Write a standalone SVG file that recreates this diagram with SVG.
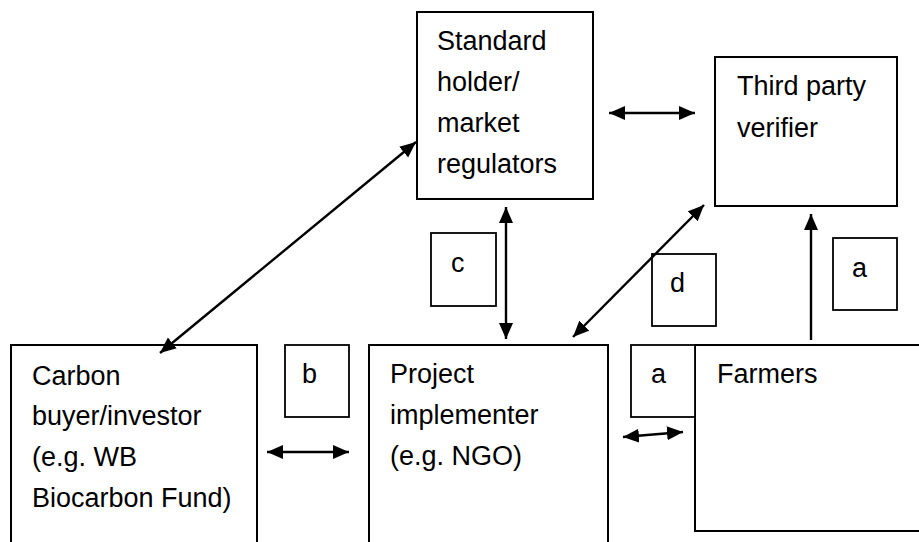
<svg xmlns="http://www.w3.org/2000/svg" width="919" height="542" viewBox="0 0 919 542">
<style>
.box{fill:#fff;stroke:#000;stroke-width:2}
.lbl{fill:#fff;stroke:#000;stroke-width:1.8}
text{font-family:"Liberation Sans",Arial,sans-serif;font-size:27px;fill:#000}
.c{stroke:#000;stroke-width:2.4;fill:none}
</style>
<defs>
<marker id="ah" markerUnits="userSpaceOnUse" markerWidth="18" markerHeight="16" refX="16" refY="7.5" orient="auto-start-reverse">
<path d="M0,0.5 L16,7.5 L0,14.5 z" fill="#000"/>
</marker>
</defs>
<rect width="919" height="542" fill="#fff"/>
<g id="standard">
<rect class="box" x="417" y="12" width="176" height="187"/>
<text x="437" y="50">Standard</text>
<text x="437" y="91">holder/</text>
<text x="437" y="132">market</text>
<text x="437" y="173">regulators</text>
</g>
<g id="verifier">
<rect class="box" x="715" y="57" width="182" height="149"/>
<text x="737" y="95">Third party</text>
<text x="737" y="137">verifier</text>
</g>
<g id="buyer">
<rect class="box" x="11" y="345" width="246" height="210"/>
<text x="32" y="385">Carbon</text>
<text x="32" y="425">buyer/investor</text>
<text x="32" y="466">(e.g. WB</text>
<text x="32" y="507">Biocarbon Fund)</text>
</g>
<g id="implementer">
<rect class="box" x="369" y="345" width="239" height="210"/>
<text x="390" y="383">Project</text>
<text x="390" y="424">implementer</text>
<text x="390" y="465">(e.g. NGO)</text>
</g>
<g id="farmers">
<rect class="box" x="695" y="345" width="240" height="186"/>
<text x="717" y="383">Farmers</text>
</g>
<g id="label-b">
<rect class="lbl" x="285" y="345" width="64" height="72"/>
<text x="302" y="383">b</text>
</g>
<g id="label-c">
<rect class="lbl" x="431" y="233" width="65" height="73"/>
<text x="451" y="272">c</text>
</g>
<g id="label-d">
<rect class="lbl" x="652" y="254" width="64" height="72"/>
<text x="670" y="292">d</text>
</g>
<g id="label-a1">
<rect class="lbl" x="631" y="345" width="64" height="72"/>
<text x="651" y="383">a</text>
</g>
<g id="label-a2">
<rect class="lbl" x="833" y="238" width="64" height="72"/>
<text x="852" y="277">a</text>
</g>
<g id="connectors">
<line class="c" x1="609" y1="113" x2="695" y2="113" marker-start="url(#ah)" marker-end="url(#ah)"/>
<line class="c" x1="416" y1="142" x2="160" y2="353" marker-start="url(#ah)" marker-end="url(#ah)"/>
<line class="c" x1="506" y1="207" x2="506" y2="339" marker-start="url(#ah)" marker-end="url(#ah)"/>
<line class="c" x1="573" y1="337" x2="704" y2="205" marker-start="url(#ah)" marker-end="url(#ah)"/>
<line class="c" x1="811" y1="340" x2="811" y2="214" marker-end="url(#ah)"/>
<line class="c" x1="267" y1="452" x2="349" y2="452" marker-start="url(#ah)" marker-end="url(#ah)"/>
<line class="c" x1="623" y1="437" x2="683" y2="432" marker-start="url(#ah)" marker-end="url(#ah)"/>
</g>
</svg>
